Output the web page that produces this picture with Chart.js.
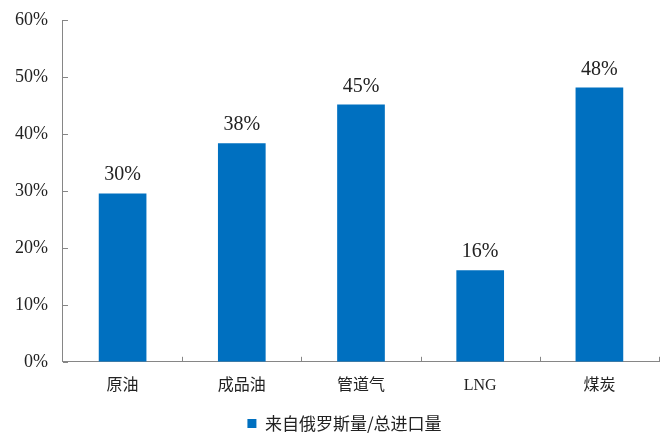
<!DOCTYPE html>
<html>
<head>
<meta charset="utf-8">
<script src="https://cdn.jsdelivr.net/npm/chart.js@4"></script>
<style>
html,body{margin:0;padding:0;background:#fff}
#box{width:660px;height:433px}
</style>
</head>
<body>
<div id="box"><canvas id="chart"></canvas></div>
<script>
/* chart data */
const categories=["原油","成品油","管道气","LNG","煤炭"]
const shareValues=[29.6,38.4,45.2,16.1,48.2]
const valueLabels=["30%","38%","45%","16%","48%"]
const seriesName="来自俄罗斯量/总进口量"

const axisColor="#868686"
const textColor="#222"

// inward tick marks on both axes
const innerTicks={
id:"innerTicks",
afterDraw(chart){
const ctx=chart.ctx
const xs=chart.scales.x, ys=chart.scales.y
ctx.save()
ctx.strokeStyle=axisColor
ctx.lineWidth=1
ctx.beginPath()
ys.ticks.forEach((t,i)=>{
const y=Math.round(ys.getPixelForTick(i))+0.5
ctx.moveTo(xs.left,y)
ctx.lineTo(xs.left+5,y)
})
const n=categories.length
for(let i=1;i<=n;i++){
const x=Math.round(xs.left+i*(xs.right-xs.left)/n)+0.5
ctx.moveTo(x,ys.bottom)
ctx.lineTo(x,ys.bottom-5)
}
ctx.stroke()
ctx.restore()
}
}

// value labels above bars
const barLabels={
id:"barLabels",
afterDatasetsDraw(chart){
const ctx=chart.ctx
const meta=chart.getDatasetMeta(0)
ctx.save()
ctx.fillStyle=textColor
ctx.font="20px 'Liberation Serif', serif"
ctx.textAlign="center"
ctx.textBaseline="alphabetic"
meta.data.forEach((bar,i)=>{
ctx.fillText(valueLabels[i],bar.x,bar.y-13)
})
ctx.restore()
}
}

// nudge legend a bit right, like the original
const legendShift={
id:"legendShift",
afterLayout(chart){
chart.legend.left+=15
chart.legend.right+=15
}
}

new Chart(document.getElementById("chart"),{
type:"bar",
data:{
labels:categories,
datasets:[{
label:seriesName,
data:shareValues,
backgroundColor:"#0070C0",
borderWidth:0,
categoryPercentage:1,
barPercentage:0.4
}]
},
options:{
responsive:true,
maintainAspectRatio:false,
animation:false,
layout:{padding:{top:20,right:1,left:0,bottom:-9}},
plugins:{
legend:{
position:"bottom",
labels:{
color:textColor,
boxWidth:9,
boxHeight:9,
padding:6,
font:{size:17,family:"'Noto Sans CJK SC', 'Liberation Serif', serif"}
}
},
tooltip:{enabled:false}
},
scales:{
x:{
grid:{display:false,drawTicks:false},
border:{display:true,color:axisColor,width:1},
ticks:{
color:textColor,
padding:14,
font:{size:16,family:"'Liberation Serif', 'Noto Sans CJK SC', serif"}
}
},
y:{
min:0,
max:60,
grid:{display:false,drawTicks:false},
border:{display:true,color:axisColor,width:1},
ticks:{
stepSize:10,
color:textColor,
padding:15,
font:{size:18,lineHeight:0.6,family:"'Liberation Serif', serif"},
callback:v=>v+"%"
}
}
}
},
plugins:[innerTicks,barLabels,legendShift]
})
</script>
</body>
</html>
